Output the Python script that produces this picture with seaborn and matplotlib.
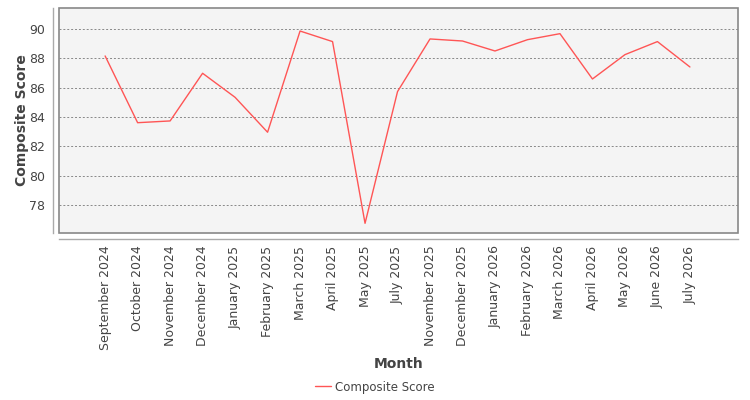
import pandas as pd
import numpy as np
import matplotlib
matplotlib.use("Agg")
import matplotlib.pyplot as plt
import seaborn as sns
from matplotlib.patches import Rectangle

months = ["September 2024", "October 2024", "November 2024", "December 2024",
          "January 2025", "February 2025", "March 2025", "April 2025", "May 2025",
          "July 2025", "November 2025", "December 2025", "January 2026",
          "February 2026", "March 2026", "April 2026", "May 2026", "June 2026",
          "July 2026"]
scores = [88.16, 83.61, 83.73, 86.98, 85.34, 82.96, 89.86, 89.14, 76.75,
          85.73, 89.32, 89.18, 88.50, 89.27, 89.68, 86.59, 88.25, 89.14, 87.41]
y_ticks = [78, 80, 82, 84, 86, 88, 90]

df = pd.DataFrame({"Month": months, "Composite Score": scores})
df["pos"] = np.arange(len(df))

sns.set_style("white")
plt.rcParams['font.family'] = ['DejaVu Sans']

fig = plt.figure(figsize=(7.5, 4), dpi=100)
ax = fig.add_axes([59/750, 1 - 233/400, 679/750, 225/400])
ax.set_facecolor("#f4f4f4")

sns.lineplot(data=df, x="pos", y="Composite Score", ax=ax, color="#ff5555",
             linewidth=1, label="Composite Score", legend=False)

# offset axis lines, like the original (do this before setting ticks)
for side in ["top", "right"]:
    ax.spines[side].set_visible(False)
for side in ["left", "bottom"]:
    ax.spines[side].set_position(("outward", 4))
    ax.spines[side].set_color("#aaaaaa")
    ax.spines[side].set_linewidth(1)

ax.set_xlim(-1.42, 19.48)
ax.set_ylim(76.09, 91.43)
ax.set_yticks(y_ticks)
ax.set_xticks(df["pos"])
ax.set_xticklabels(months)

for y in y_ticks:
    ax.axhline(y, color="#888888", linestyle=(0, (2, 2)), linewidth=0.7, zorder=0)

# box around the plot area
ax.add_patch(Rectangle((0, 0), 1, 1, transform=ax.transAxes, fill=False,
                       edgecolor="#888888", linewidth=1.2, clip_on=False, zorder=5))

ax.tick_params(axis="x", length=3, color="#aaaaaa", labelsize=9, labelcolor="#444444",
               pad=2, labelrotation=90)
ax.tick_params(axis="y", length=0, labelsize=9, labelcolor="#444444", pad=6)

ax.set_xlabel("Month", fontsize=10, fontweight="bold", color="#444444")
ax.set_ylabel("Composite Score", fontsize=10, fontweight="bold", color="#444444")
ax.xaxis.set_label_coords(0.5, (233 - 357) / 225)
ax.yaxis.set_label_coords((29 - 59) / 679, 0.5)

handles, labels = ax.get_legend_handles_labels()
leg = fig.legend(handles, labels, loc="center", bbox_to_anchor=(0.5, 1 - 387/400),
                 frameon=False, fontsize=8.5, handlelength=1.3, handletextpad=0.4)
for t in leg.get_texts():
    t.set_color("#444444")

fig.savefig("out.png", dpi=100)
